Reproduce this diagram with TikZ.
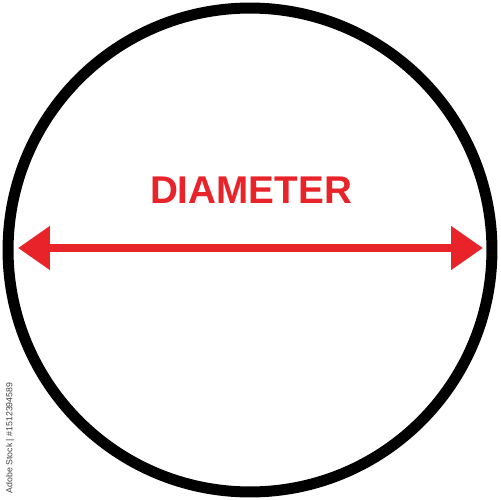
\documentclass[tikz,border=0pt]{standalone}
\usepackage{fontspec}
\setmainfont{Liberation Sans}
\usetikzlibrary{arrows.meta}
\definecolor{arrowred}{HTML}{E8232A}
\definecolor{wmgrey}{HTML}{444444}
\tikzset{
  ring/.style={draw=black, line width=0.22cm},
  redarrow/.style={draw=arrowred, line width=0.16cm,
    {Triangle[length=0.64cm,width=0.84cm,fill=arrowred]}-{Triangle[length=0.64cm,width=0.84cm,fill=arrowred]}},
  label/.style={text=arrowred, font=\fontsize{22pt}{24pt}\selectfont\bfseries, inner sep=0pt},
  watermark/.style={text=wmgrey, font=\fontsize{5pt}{6pt}\selectfont, inner sep=0pt, rotate=90}
}
\begin{document}
\begin{tikzpicture}[x=0.02cm,y=-0.02cm]
\useasboundingbox (0,0) rectangle (500,500);
\fill[white] (0,0) rectangle (500,500);
\coordinate (c) at (250,250);
\draw[ring] (c) circle[radius=4.84cm];
\coordinate (L) at (18,248);
\coordinate (R) at (483,248);
\draw[redarrow] (L) -- (R);
\node[label] (t) at (251,190) {DIAMETER};
\node[watermark] (wm) at (10,438) {Adobe Stock | \#1512394589};
\end{tikzpicture}
\end{document}
